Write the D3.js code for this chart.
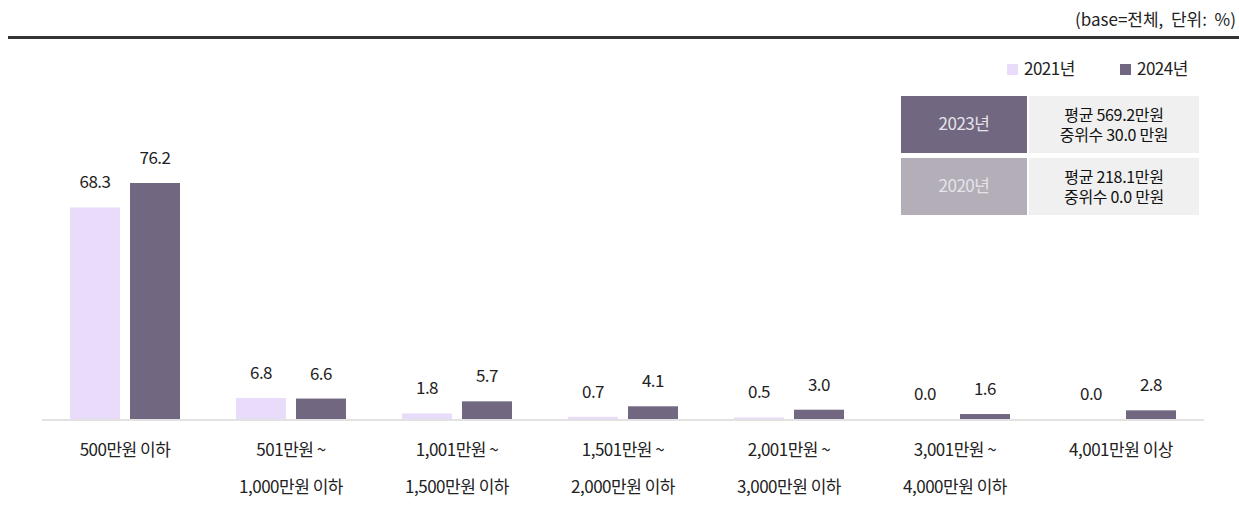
<!DOCTYPE html>
<html>
<head>
<meta charset="utf-8">
<script src="https://cdn.jsdelivr.net/npm/d3@7"></script>
<style>
  body { margin: 0; background: #fff; }
  svg text { font-family: "Noto Sans CJK KR", "Noto Sans", sans-serif; white-space: pre; }
</style>
</head>
<body>
<svg id="chart" width="1239" height="512"></svg>
<script>
const width = 1239;
const height = 512;

// data
const categories = [
    ["500만원 이하"],
    ["501만원 ~", "1,000만원 이하"],
    ["1,001만원 ~", "1,500만원 이하"],
    ["1,501만원 ~", "2,000만원 이하"],
    ["2,001만원 ~", "3,000만원 이하"],
    ["3,001만원 ~", "4,000만원 이하"],
    ["4,001만원 이상"]
];
const seriesNames = ["2021년", "2024년"];
const values2021 = [68.3, 6.8, 1.8, 0.7, 0.5, 0.0, 0.0];
const values2024 = [76.2, 6.6, 5.7, 4.1, 3.0, 1.6, 2.8];
const colors = ["#e8dcfa", "#726780"];

const infoYears = ["2023년", "2020년"];
const infoMeans = ["평균 569.2만원", "평균 218.1만원"];
const infoMedians = ["중위수 30.0 만원", "중위수 0.0 만원"];
const infoColors = ["#726780", "#b3aeb8"];

const svg = d3.select("#chart");
const fontSize = 17;
const ls = "-0.5px";

// header note + top rule
svg.append("text")
    .attr("x", 1236)
    .attr("y", 26)
    .attr("text-anchor", "end")
    .attr("font-size", fontSize)
    .attr("letter-spacing", "0px")
    .attr("fill", "#222")
    .text("(base=전체,  단위:  %)");

svg.append("line")
    .attr("x1", 8).attr("x2", width)
    .attr("y1", 37.5).attr("y2", 37.5)
    .attr("stroke", "#333")
    .attr("stroke-width", 3);

// scales
const x0 = d3.scaleBand()
    .domain(d3.range(categories.length))
    .range([42, 1204])
    .padding(0);

const barW = 50, barGap = 10;
const baseY = 419;
const y = d3.scaleLinear()
    .domain([0, 76.2])
    .range([baseY, 183]);

const data = categories.map((c, i) => ({ i, vals: [values2021[i], values2024[i]] }));

// baseline
svg.append("line")
    .attr("x1", x0.range()[0]).attr("x2", x0.range()[1])
    .attr("y1", baseY + 1).attr("y2", baseY + 1)
    .attr("stroke", "#e2e2e2")
    .attr("stroke-width", 2);

const groups = svg.selectAll(".group")
    .data(data)
    .join("g")
    .attr("class", "group")
    .attr("transform", d => `translate(${x0(d.i) + x0.bandwidth() / 2}, 0)`);

groups.selectAll("rect")
    .data(d => d.vals.map((v, k) => ({ v, k })))
    .join("rect")
    .attr("x", d => d.k === 0 ? -barW - barGap / 2 : barGap / 2)
    .attr("y", d => y(d.v))
    .attr("width", barW)
    .attr("height", d => baseY - y(d.v))
    .attr("fill", d => colors[d.k]);

groups.selectAll(".val")
    .data(d => d.vals.map((v, k) => ({ v, k })))
    .join("text")
    .attr("class", "val")
    .attr("x", d => d.k === 0 ? -barW / 2 - barGap / 2 : barW / 2 + barGap / 2)
    .attr("y", d => y(d.v) - 19)
    .attr("text-anchor", "middle")
    .attr("font-size", fontSize)
    .attr("letter-spacing", ls)
    .attr("fill", "#222")
    .text(d => d.v.toFixed(1));

// category labels
groups.each(function (d) {
    const g = d3.select(this);
    categories[d.i].forEach((line, j) => {
        g.append("text")
            .attr("x", 0)
            .attr("y", 456 + j * 37)
            .attr("text-anchor", "middle")
            .attr("font-size", fontSize)
            .attr("letter-spacing", ls)
            .attr("fill", "#222")
            .text(line);
    });
});

// legend
const legendX = [1007, 1120];
seriesNames.forEach((name, k) => {
    svg.append("rect")
        .attr("x", legendX[k])
        .attr("y", 64)
        .attr("width", 11)
        .attr("height", 11)
        .attr("fill", colors[k]);
    svg.append("text")
        .attr("x", legendX[k] + 17)
        .attr("y", 75)
        .attr("font-size", fontSize)
        .attr("letter-spacing", ls)
        .attr("fill", "#222")
        .text(name);
});

// info box
infoYears.forEach((yr, k) => {
    const top = 96 + k * 62;
    svg.append("rect")
        .attr("x", 901).attr("y", top)
        .attr("width", 126).attr("height", 57)
        .attr("fill", infoColors[k]);
    svg.append("rect")
        .attr("x", 1029).attr("y", top)
        .attr("width", 170).attr("height", 57)
        .attr("fill", "#f0f0f0");
    svg.append("text")
        .attr("x", 964).attr("y", top + 34)
        .attr("text-anchor", "middle")
        .attr("font-size", fontSize)
        .attr("letter-spacing", ls)
        .attr("fill", "#e6e3ea")
        .text(yr);
    svg.append("text")
        .attr("x", 1114).attr("y", top + 25)
        .attr("text-anchor", "middle")
        .attr("font-size", 16)
        .attr("letter-spacing", "-0.3px")
        .attr("fill", "#111")
        .text(infoMeans[k]);
    svg.append("text")
        .attr("x", 1114).attr("y", top + 45)
        .attr("text-anchor", "middle")
        .attr("font-size", 16)
        .attr("letter-spacing", "-0.3px")
        .attr("fill", "#111")
        .text(infoMedians[k]);
});
</script>
</body>
</html>
